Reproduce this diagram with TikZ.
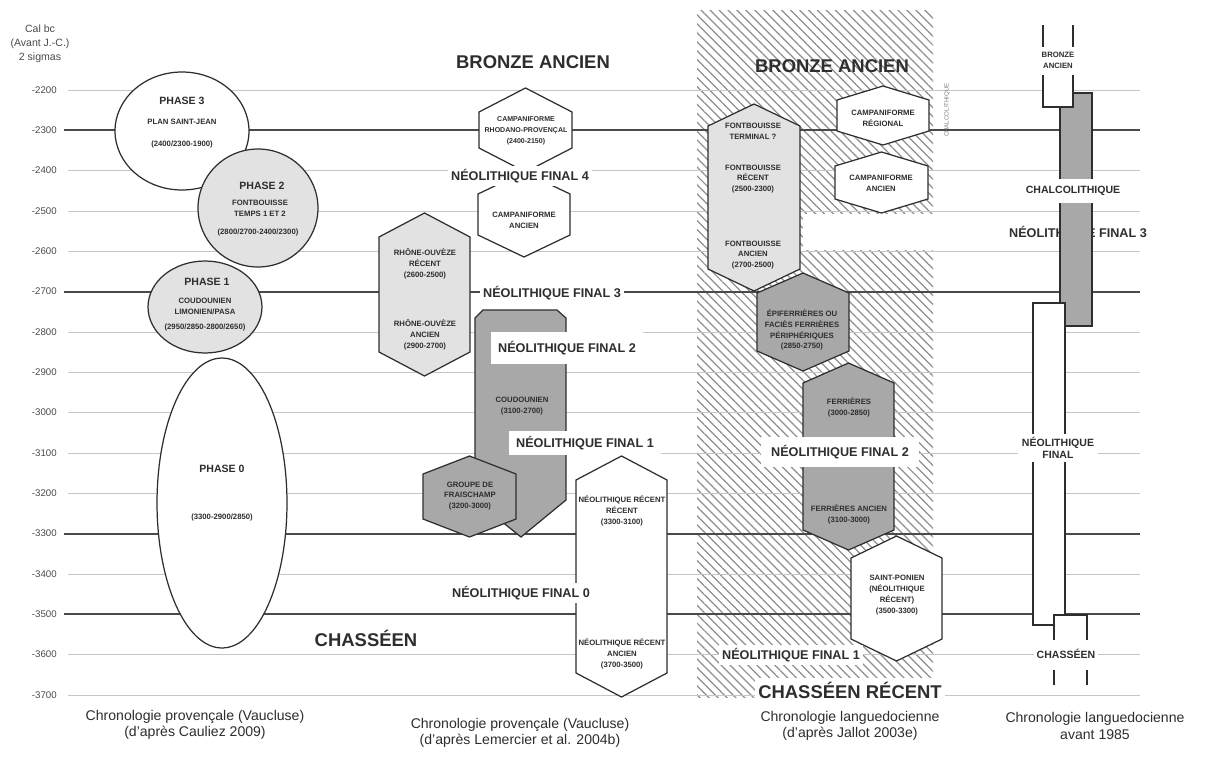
\documentclass[tikz,border=0pt]{standalone}
\usepackage{fontspec}
\setmainfont{Liberation Sans}
\usetikzlibrary{patterns.meta}

\definecolor{gridgray}{HTML}{C6C6C6}
\definecolor{thickgray}{HTML}{4A4A4A}
\definecolor{lightfill}{HTML}{E2E2E2}
\definecolor{darkfill}{HTML}{A8A8A8}
\definecolor{hatchgray}{HTML}{8E8E8E}
\definecolor{inkgray}{HTML}{2E2E2E}

\tikzset{
  thinline/.style={gridgray, line width=0.5pt},
  thickline/.style={thickgray, line width=1.2pt},
  outline/.style={draw=inkgray, line width=0.7pt},
  whitebox/.style={outline, fill=white},
  lightbox/.style={outline, fill=lightfill},
  darkbox/.style={outline, fill=darkfill},
  txt/.style={font=\fontsize{4.4}{6.2}\selectfont\bfseries, align=center, inner sep=0.5pt, text=inkgray},
  phase/.style={font=\fontsize{6}{7}\selectfont\bfseries, inner sep=0.5pt, text=inkgray},
  period/.style={font=\fontsize{7.2}{8}\selectfont\bfseries, fill=white, inner sep=2pt, text=inkgray},
  era/.style={font=\fontsize{10.5}{12}\selectfont\bfseries, inner sep=1pt, text=inkgray},
  axis/.style={font=\fontsize{5.5}{6}\selectfont, anchor=east, inner sep=0pt, text=thickgray},
  caption/.style={font=\fontsize{8}{9.2}\selectfont, align=center, text=inkgray},
}

% style, x left, x right, y top, y bottom, corner depth
\newcommand{\hexa}[6]{%
  \draw[#1] ({(#2+#3)/2},#4) -- (#3,#4+#6) -- (#3,#5-#6) -- ({(#2+#3)/2},#5) -- (#2,#5-#6) -- (#2,#4+#6) -- cycle;}

\begin{document}
\begin{tikzpicture}[x=0.02cm,y=-0.02cm]
  \useasboundingbox (0,0) rectangle (1210,758);
  \fill[white] (0,0) rectangle (1210,758);

  % hatched zone (Jallot)
  \fill[pattern={Lines[angle=-45,distance=3.6pt,line width=0.7pt]}, pattern color=hatchgray] (697,10) rectangle (933,697);
  \fill[white] (803,214) rectangle (935,250);

  % time scale
  \foreach \i in {0,...,15} {
    \pgfmathsetmacro{\yv}{90+40.33*\i}
    \pgfmathtruncatemacro{\lab}{-2200-100*\i}
    \draw[thinline] (68,\yv) -- (1140,\yv);
    \node[axis] (ax\i) at (57,\yv) {\lab};
  }
  \foreach \i in {1,5,11,13} {
    \pgfmathsetmacro{\yv}{90+40.33*\i}
    \draw[thickline] (64,\yv) -- (1140,\yv);
  }
  \node[font=\fontsize{6}{8}\selectfont, align=center, text=thickgray] (unit) at (40,44) {Cal bc\\(Avant J.-C.)\\2 sigmas};

  % Cauliez 2009
  \draw[whitebox] (182,131) ellipse (1.34cm and 1.18cm);
  \draw[lightbox] (258,208) ellipse (1.2cm and 1.18cm);
  \draw[lightbox] (205,307) ellipse (1.14cm and 0.92cm);
  \draw[whitebox] (222,503) ellipse (1.3cm and 2.9cm);
  \node[phase] (p3a) at (182,101) {PHASE 3};
  \node[txt] (p3b) at (182,122) {PLAN SAINT-JEAN};
  \node[txt] (p3c) at (182,144) {(2400/2300-1900)};
  \node[phase] (p2a) at (262,186) {PHASE 2};
  \node[txt] (p2b) at (260,208) {FONTBOUISSE\\TEMPS 1 ET 2};
  \node[txt] (p2c) at (258,232) {(2800/2700-2400/2300)};
  \node[phase] (p1a) at (207,282) {PHASE 1};
  \node[txt] (p1b) at (205,306) {COUDOUNIEN\\LIMONIEN/PASA};
  \node[txt] (p1c) at (205,327) {(2950/2850-2800/2650)};
  \node[phase] (p0a) at (222,469) {PHASE 0};
  \node[txt] (p0b) at (222,517) {(3300-2900/2850)};

  % Lemercier et al. 2004b
  \hexa{whitebox}{479}{572}{88}{172}{24}
  \hexa{whitebox}{478}{570}{172}{257}{22}
  \hexa{lightbox}{379}{470}{213}{376}{24}
  \draw[darkbox] (483,310) -- (557,310) -- (566,318) -- (566,500) -- (521,537) -- (475,500) -- (475,318) -- cycle;
  \hexa{darkbox}{423}{516}{456}{537}{18}
  \hexa{whitebox}{576}{667}{456}{697}{24}
  \node[era] (bronze1) at (533,62) {BRONZE ANCIEN};
  \node[txt, font=\fontsize{4}{6.2}\selectfont\bfseries] (camprp) at (526,131) {CAMPANIFORME\\RHODANO-PROVENÇAL\\(2400-2150)};
  \node[txt] (campanc) at (524,220) {CAMPANIFORME\\ANCIEN};
  \node[txt] (rhor) at (425,264) {RHÔNE-OUVÈZE\\RÉCENT\\(2600-2500)};
  \node[txt] (rhoa) at (425,335) {RHÔNE-OUVÈZE\\ANCIEN\\(2900-2700)};
  \node[txt] (coud) at (522,406) {COUDOUNIEN\\(3100-2700)};
  \node[txt] (frai) at (470,496) {GROUPE DE\\FRAISCHAMP\\(3200-3000)};
  \node[txt] (nrr) at (622,511) {NÉOLITHIQUE RÉCENT\\RÉCENT\\(3300-3100)};
  \node[txt] (nra) at (622,654) {NÉOLITHIQUE RÉCENT\\ANCIEN\\(3700-3500)};
  \node[period] (nf4) at (520,176) {NÉOLITHIQUE FINAL 4};
  \node[period] (nf3) at (552,293) {NÉOLITHIQUE FINAL 3};
  \node[period, inner xsep=4pt, inner ysep=5pt] (nf2) at (567,348) {NÉOLITHIQUE FINAL 2};
  \node[period, inner xsep=4pt, inner ysep=3pt] (nf1) at (585,443) {NÉOLITHIQUE FINAL 1};
  \node[period] (nf0) at (521,593) {NÉOLITHIQUE FINAL 0};
  \node[era] (chass1) at (366,638) {CHASSÉEN};

  % Jallot 2003e
  \hexa{lightbox}{708}{800}{104}{291}{22}
  \hexa{whitebox}{837}{929}{86}{145}{14}
  \hexa{whitebox}{835}{928}{152}{213}{14}
  \hexa{darkbox}{757}{849}{273}{371}{20}
  \hexa{darkbox}{803}{894}{363}{550}{20}
  \hexa{whitebox}{851}{942}{536}{661}{22}
  \node[era] (bronze2) at (832,66) {BRONZE ANCIEN};
  \node[txt] (fbt) at (753,131) {FONTBOUISSE\\TERMINAL ?};
  \node[txt] (fbr) at (753,179) {FONTBOUISSE\\RÉCENT\\(2500-2300)};
  \node[txt] (fba) at (753,255) {FONTBOUISSE\\ANCIEN\\(2700-2500)};
  \node[txt] (campreg) at (883,118) {CAMPANIFORME\\RÉGIONAL};
  \node[txt] (campanc2) at (881,183) {CAMPANIFORME\\ANCIEN};
  \node[txt] (epif) at (802,330) {ÉPIFERRIÈRES OU\\FACIÈS FERRIÈRES\\PÉRIPHÉRIQUES\\(2850-2750)};
  \node[txt] (ferr) at (849,407) {FERRIÈRES\\(3000-2850)};
  \node[txt] (ferra) at (849,514) {FERRIÈRES ANCIEN\\(3100-3000)};
  \node[txt] (spon) at (897,595) {SAINT-PONIEN\\(NÉOLITHIQUE\\RÉCENT)\\(3500-3300)};
  \node[period, inner xsep=6pt, inner ysep=4.5pt] (nf2b) at (840,452) {NÉOLITHIQUE FINAL 2};
  \node[period] (nf1b) at (791,655) {NÉOLITHIQUE FINAL 1};
  \node[era, fill=white, inner sep=2pt] (chassrec) at (850,690) {CHASSÉEN RÉCENT};
  \node[rotate=90, font=\fontsize{3.5}{4}\selectfont, text=gray] (vtext) at (947,110) {CHALCOLITHIQUE};

  % avant 1985
  \node[period, fill=none] (nf3c) at (1078,233) {NÉOLITHIQUE FINAL 3};
  \draw[outline, fill=darkfill] (1060,93) rectangle (1092,326);
  \draw[outline] (1043,25) -- (1043,47) (1073,25) -- (1073,47);
  \fill[white] (1043,75) rectangle (1073,107);
  \draw[outline] (1043,75) -- (1043,107) -- (1073,107) -- (1073,75);
  \draw[whitebox] (1033,303) -- (1065,303) -- (1065,615) -- (1054,615) -- (1054,625) -- (1033,625) -- cycle;
  \draw[outline] (1054,640) -- (1054,615) -- (1087,615) -- (1087,640);
  \draw[outline] (1054,670) -- (1054,685) (1087,670) -- (1087,685);
  \node[txt] (bz4) at (1058,60) {BRONZE\\ANCIEN};
  \node[phase, fill=white, inner xsep=4pt, inner ysep=4pt] (chalco) at (1073,191) {CHALCOLITHIQUE};
  \node[phase, fill=white, align=center, inner sep=2pt] (nf4c) at (1058,448) {NÉOLITHIQUE\\FINAL};
  \node[phase, fill=white, inner sep=1.5pt] (chass4) at (1066,654) {CHASSÉEN};

  % captions
  \node[caption] (cap1) at (195,725) {Chronologie provençale (Vaucluse)\\(d'après Cauliez 2009)};
  \node[caption] (cap2) at (520,733) {Chronologie provençale (Vaucluse)\\(d'après Lemercier et al. 2004b)};
  \node[caption] (cap3) at (850,726) {Chronologie languedocienne\\(d'après Jallot 2003e)};
  \node[caption] (cap4) at (1095,726) {Chronologie languedocienne\\avant 1985};
\end{tikzpicture}
\end{document}
